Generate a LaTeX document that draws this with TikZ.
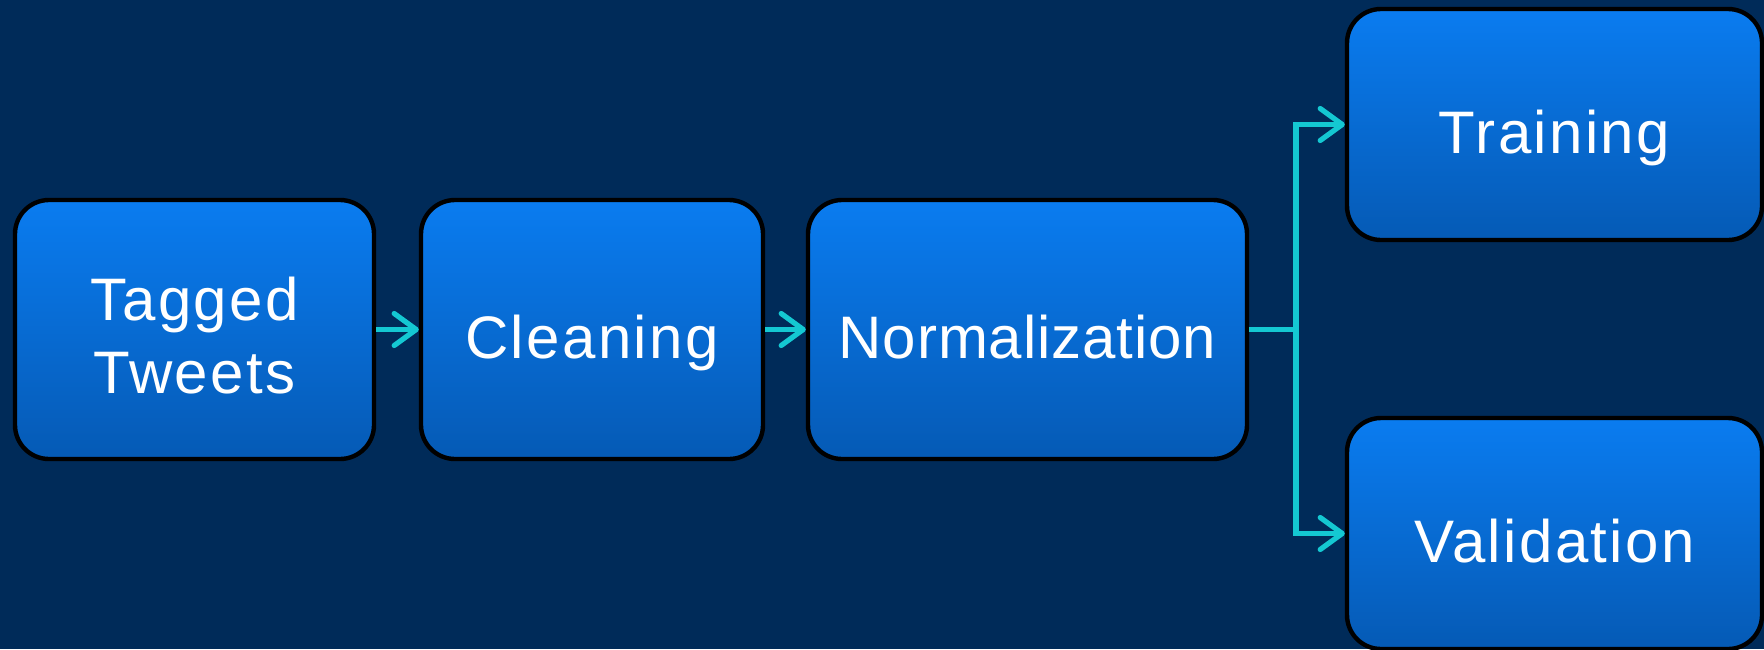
\documentclass[tikz,border=0pt]{standalone}
\usepackage{fontspec}
\setmainfont{Liberation Sans}[LetterSpace=4]
\usetikzlibrary{arrows.meta}
\definecolor{bgnavy}{HTML}{002B59}
\definecolor{boxtop}{HTML}{0A7CF0}
\definecolor{boxbot}{HTML}{055AB5}
\definecolor{linkcyan}{HTML}{14C8D2}

\begin{document}
\begin{tikzpicture}[x=0.5pt,y=-0.5pt,
  >={Straight Barb[length=11pt,width=16pt,line cap=round,line join=round]}]
 \tikzstyle{stage} = [rectangle, rounded corners=17pt, draw=black, line width=2.2pt,
   top color=boxtop, bottom color=boxbot, text=white, align=center, inner sep=0pt,
   font=\fontsize{30}{36.5}\selectfont, text height=29pt, text depth=0pt]
 \tikzstyle{link} = [draw=linkcyan, line width=2.6pt]

% Background (pixel coordinates, y downwards)
 \fill[bgnavy] (0,0) rectangle (1764,649);
 \useasboundingbox (0,0) rectangle (1764,649);

% Pipeline stages
 \node[stage, minimum width=179.5pt, minimum height=129.5pt, text height=63.5pt] (tagged) at (194.5,329.5) {Tagged\\Tweets};
 \node[stage, minimum width=171pt, minimum height=129.5pt] (cleaning) at (592,329.5) {Cleaning};
 \node[stage, minimum width=219.5pt, minimum height=129.5pt] (norm) at (1027.5,329.5) {\addfontfeature{LetterSpace=1.5}Normalization};
 \node[stage, minimum width=207.5pt, minimum height=115.5pt] (training) at (1554.5,124.5) {Training};
 \node[stage, minimum width=207.5pt, minimum height=115.5pt] (validation) at (1554.5,533.5) {Validation};

% Arrows
 \coordinate (split) at (1296,329.5);
 \draw[link,->] (tagged) -- (cleaning);
 \draw[link,->] (cleaning) -- (norm);
 \draw[link] (norm) -- (split);
 \draw[link,->] (split) |- (training);
 \draw[link,->] (split) |- (validation);
\end{tikzpicture}
\end{document}
